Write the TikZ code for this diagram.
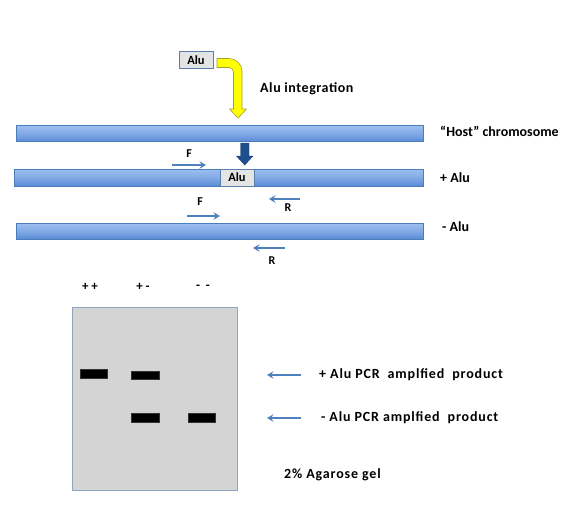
\documentclass[tikz,border=0pt]{standalone}
\usepackage{fontspec}
\setmainfont{Carlito}
\usetikzlibrary{arrows.meta,shapes.geometric}
\definecolor{barA}{HTML}{9DBFF0}
\definecolor{barB}{HTML}{5A8AD6}
\definecolor{barline}{HTML}{4A7EBB}
\definecolor{primer}{HTML}{4F81BD}
\definecolor{alugray}{HTML}{E4E4E4}
\definecolor{gelgray}{HTML}{D4D4D4}
\definecolor{geledge}{HTML}{8EA4C0}
\definecolor{darkarrow}{HTML}{1F4E8C}
\definecolor{yel}{HTML}{FFFF00}
\definecolor{yeledge}{HTML}{A0A030}
\tikzset{
  chrom/.style={draw=barline, line width=0.5pt, top color=barA, bottom color=barB, middle color=barA!60!barB},
  alubox/.style={draw=barline!70!gray, fill=alugray, line width=0.5pt, font=\bfseries\fontsize{12.5}{14}\selectfont, inner sep=0pt},
  lbl/.style={font=\bfseries\fontsize{14}{16}\selectfont, anchor=west, inner sep=0pt},
  ilbl/.style={font=\bfseries\fontsize{14}{16}\selectfont\addfontfeature{LetterSpace=4}, anchor=west, inner sep=0pt},
  wlbl/.style={font=\bfseries\fontsize{14}{16}\selectfont\addfontfeature{LetterSpace=6}, anchor=west, inner sep=0pt},
  plbl/.style={font=\bfseries\fontsize{12}{14}\selectfont, inner sep=0pt},
  lanelbl/.style={font=\bfseries\fontsize{13}{15}\selectfont, inner sep=0pt},
  primerarrow/.style={draw=primer, line width=1.3pt, -{Stealth[length=6.5pt,width=7.5pt,inset=2.5pt]}},
  band/.style={fill=black, draw=black!80, line width=0.3pt},
}
\begin{document}
\begin{tikzpicture}[x=1pt,y=-1pt]
\useasboundingbox (0,0) rectangle (569,509);
% top Alu box
\node[alubox, minimum width=34pt, minimum height=17pt] (alutop) at (196,60) {Alu};
% yellow bent arrow
\draw[yeledge, fill=yel, line width=0.6pt]
  (217,58.5) -- (229,58.5) arc[start angle=-90,end angle=0,radius=13] -- (242,109)
  -- (246.5,109) -- (238,118) -- (229.5,109) -- (233.5,109) -- (233.5,72)
  arc[start angle=0,end angle=-90,radius=4.5] -- (217,67.5) -- cycle;
\coordinate (yeltip) at (238,118);
\node[ilbl] (integ) at (260,89) {Alu integration};
% host chromosome
\node[chrom, minimum width=407pt, minimum height=16pt, inner sep=0pt] (host) at (219.5,133.5) {};
\node[lbl] (hostlbl) at (440,131) {“Host” chromosome};
% dark blue arrow
\draw[fill=darkarrow, draw=darkarrow!80!black, line width=0.4pt]
  (240.5,143) -- (249,143) -- (249,156) -- (253,156) -- (244.75,165) -- (236.5,156) -- (240.5,156) -- cycle;
% + Alu chromosome
\node[chrom, minimum width=409pt, minimum height=17pt, inner sep=0pt] (plus) at (218.5,177.5) {};
\node[alubox, minimum width=34pt, minimum height=17pt] (aluin) at (237,177.5) {Alu};
\node[lbl] (pluslbl) at (440,178) {+ Alu};
% primers on + Alu
\coordinate (f1s) at (172,165); \coordinate (f1e) at (206,165);
\draw[primerarrow] (f1s) -- (f1e);
\node[plbl] (f1) at (189,154) {F};
\coordinate (r1s) at (300,199); \coordinate (r1e) at (269,199);
\draw[primerarrow] (r1s) -- (r1e);
\node[plbl] (r1) at (288,208) {R};
% - Alu chromosome
\node[chrom, minimum width=407pt, minimum height=16pt, inner sep=0pt] (minus) at (219.5,231) {};
\node[lbl] (minuslbl) at (442,227) {- Alu};
\coordinate (f2s) at (187,216); \coordinate (f2e) at (220,216);
\draw[primerarrow] (f2s) -- (f2e);
\node[plbl] (f2) at (200,202) {F};
\coordinate (r2s) at (285,248); \coordinate (r2e) at (253,248);
\draw[primerarrow] (r2s) -- (r2e);
\node[plbl] (r2) at (272,261) {R};
% gel
\node[draw=geledge, fill=gelgray, line width=0.6pt, minimum width=165pt, minimum height=183pt, inner sep=0pt] (gel) at (154.5,398.5) {};
\node[lanelbl] (l1) at (90,287) {+\ +};
\node[lanelbl] (l2) at (143,287) {+\ -};
\node[lanelbl] (l3) at (203,287) {-\ \ -};
\node[band, minimum width=27pt, minimum height=9pt, inner sep=0pt] (b1) at (93.5,373.5) {};
\node[band, minimum width=28pt, minimum height=8.5pt, inner sep=0pt] (b2) at (145,375) {};
\node[band, minimum width=28pt, minimum height=8.5pt, inner sep=0pt] (b3) at (145,417.5) {};
\node[band, minimum width=27pt, minimum height=8.5pt, inner sep=0pt] (b4) at (201.5,417.5) {};
% product arrows
\node[wlbl] (prod1) at (319,375) {+ Alu PCR\ \ amplfied\ \ product};
\node[wlbl] (prod2) at (321,418) {- Alu PCR amplfied\ \ product};
\coordinate (a1s) at (301,375); \coordinate (a1e) at (267,375);
\draw[primerarrow] (a1s) -- (a1e);
\coordinate (a2s) at (301,418); \coordinate (a2e) at (267,418);
\draw[primerarrow] (a2s) -- (a2e);
\node[wlbl] (agar) at (284,475) {2\% Agarose gel};
\end{tikzpicture}
\end{document}
